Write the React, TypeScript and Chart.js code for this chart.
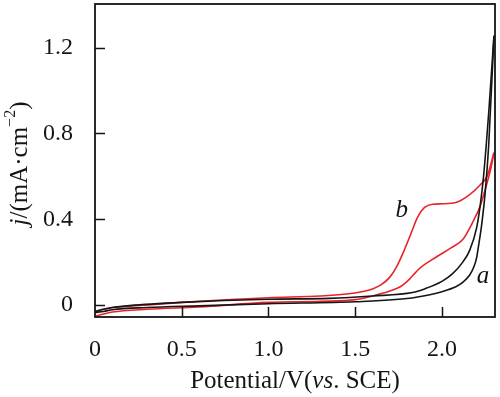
import React, { useEffect, useRef } from 'react';
import { Chart, registerables } from 'chart.js';
Chart.register(...registerables);

// Tick values and labels
const xTickValues = [0, 0.5, 1.0, 1.5, 2.0];
const xTickLabels = ['0', '0.5', '1.0', '1.5', '2.0'];
const yTickValues = [0, 0.4, 0.8, 1.2];
const yTickLabels = ['0', '0.4', '0.8', '1.2'];

// Curve a (black): branch rising at lower potential
const aUpperX = [0, 0.05, 0.1, 0.2, 0.5, 1.0, 1.35, 1.6, 1.83, 1.9, 2.0, 2.06, 2.12, 2.16, 2.2, 2.22, 2.24, 2.27, 2.3];
const aUpperY = [-0.03, -0.02, -0.012, -0.003, 0.012, 0.027, 0.031, 0.042, 0.058, 0.075, 0.11, 0.145, 0.2, 0.255, 0.36, 0.46, 0.6, 0.9, 1.256];
// Curve a (black): branch rising at higher potential
const aLowerX = [0, 0.05, 0.1, 0.3, 0.6, 1.0, 1.5, 1.8, 1.93, 2.0, 2.08, 2.12, 2.16, 2.18, 2.2, 2.21, 2.23, 2.25, 2.27, 2.3];
const aLowerY = [-0.035, -0.03, -0.022, -0.012, -0.004, 0.006, 0.015, 0.03, 0.048, 0.062, 0.085, 0.105, 0.14, 0.17, 0.22, 0.27, 0.38, 0.53, 0.75, 1.256];

// Curve b (red): branch with oxidation shoulder
const bUpperX = [0, 0.05, 0.1, 0.3, 0.5, 1.0, 1.3, 1.5, 1.55, 1.6, 1.65, 1.7, 1.74, 1.78, 1.82, 1.86, 1.9, 1.95, 2.0, 2.08, 2.16, 2.22, 2.26, 2.3];
const bUpperY = [-0.03, -0.02, -0.012, 0.0, 0.012, 0.034, 0.042, 0.056, 0.064, 0.075, 0.095, 0.13, 0.18, 0.25, 0.33, 0.41, 0.455, 0.47, 0.472, 0.478, 0.515, 0.56, 0.6, 0.71];
// Curve b (red): lower branch
const bLowerX = [0, 0.05, 0.1, 0.3, 0.6, 1.0, 1.3, 1.5, 1.6, 1.7, 1.76, 1.8, 1.87, 1.97, 2.05, 2.12, 2.18, 2.22, 2.25, 2.28, 2.3];
const bLowerY = [-0.052, -0.042, -0.033, -0.02, -0.009, 0.012, 0.017, 0.025, 0.042, 0.065, 0.085, 0.11, 0.17, 0.225, 0.265, 0.305, 0.39, 0.46, 0.54, 0.63, 0.71];

// Curve labels (data coordinates)
const curveLabels = ['a', 'b'];
const curveLabelX = [2.237, 1.768];
const curveLabelY = [0.132, 0.443];

const RED = '#e8242b';
const BLACK = '#151515';
const FONT = '"Liberation Serif", "Times New Roman", serif';

type Seg = { t: string; italic?: boolean; sup?: boolean };

function drawSegs(ctx: CanvasRenderingContext2D, segs: Seg[], cx: number, cy: number, size: number) {
  const fontFor = (s: Seg) => `${s.italic ? 'italic ' : ''}${s.sup ? Math.round(size * 0.62) : size}px ${FONT}`;
  let total = 0;
  const widths = segs.map((s) => {
    ctx.font = fontFor(s);
    const w = ctx.measureText(s.t).width;
    total += w;
    return w;
  });
  let x = cx - total / 2;
  ctx.textBaseline = 'middle';
  ctx.textAlign = 'left';
  segs.forEach((s, i) => {
    ctx.font = fontFor(s);
    ctx.fillText(s.t, x, s.sup ? cy - size * 0.38 : cy);
    x += widths[i];
  });
}

const decorPlugin = {
  id: 'decor',
  afterDraw(chart: any) {
    const { ctx, chartArea: ca, scales } = chart;
    const xs = scales.x;
    const ys = scales.y;
    ctx.save();
    ctx.strokeStyle = BLACK;
    ctx.lineWidth = 1.8;
    ctx.strokeRect(ca.left, ca.top, ca.right - ca.left, ca.bottom - ca.top);
    ctx.lineWidth = 1.5;
    ctx.beginPath();
    yTickValues.forEach((v) => {
      const py = Math.round(ys.getPixelForValue(v)) + 0.5;
      ctx.moveTo(ca.left, py);
      ctx.lineTo(ca.left + 10, py);
    });
    xTickValues.forEach((v) => {
      if (v === 0) return;
      const px = Math.round(xs.getPixelForValue(v)) + 0.5;
      ctx.moveTo(px, ca.bottom);
      ctx.lineTo(px, ca.bottom - 10);
    });
    ctx.stroke();

    ctx.fillStyle = BLACK;
    // x title
    drawSegs(ctx, [{ t: 'Potential/V(' }, { t: 'vs', italic: true }, { t: '. SCE)' }], (ca.left + ca.right) / 2, 381, 25);
    // y title
    ctx.save();
    ctx.translate(20, (ca.top + ca.bottom) / 2 + 3);
    ctx.rotate(-Math.PI / 2);
    drawSegs(ctx, [{ t: 'j', italic: true }, { t: '/(mA·cm' }, { t: '−2', sup: true }, { t: ')' }], 0, 0, 25);
    ctx.restore();

    // curve labels
    ctx.font = `italic 25px ${FONT}`;
    ctx.textAlign = 'center';
    ctx.textBaseline = 'middle';
    curveLabels.forEach((lab, i) => {
      ctx.fillText(lab, xs.getPixelForValue(curveLabelX[i]), ys.getPixelForValue(curveLabelY[i]));
    });
    ctx.restore();
  },
};

function toPts(xs: number[], ys: number[]) {
  return xs.map((x, i) => ({ x, y: ys[i] }));
}

function zeroPad(scale: any) {
  scale.paddingTop = 0;
  scale.paddingBottom = 0;
  scale.paddingLeft = 0;
  scale.paddingRight = 0;
}

export default function App() {
  const ref = useRef<HTMLCanvasElement | null>(null);
  useEffect(() => {
    document.body.style.margin = '0';
    const canvas = ref.current!;
    const mk = (xs: number[], ys: number[], color: string) => ({
      data: toPts(xs, ys),
      borderColor: color,
      backgroundColor: color,
      borderWidth: 1.6,
      pointRadius: 0,
      cubicInterpolationMode: 'monotone' as const,
      fill: false,
    });
    const chart = new Chart(canvas, {
      type: 'line',
      data: {
        datasets: [
          mk(aLowerX, aLowerY, BLACK),
          mk(aUpperX, aUpperY, BLACK),
          mk(bLowerX, bLowerY, RED),
          mk(bUpperX, bUpperY, RED),
        ],
      },
      options: {
        responsive: false,
        animation: false,
        layout: { padding: { top: 4, right: 5, left: 0, bottom: 0 } },
        plugins: { legend: { display: false }, tooltip: { enabled: false } },
        scales: {
          x: {
            type: 'linear',
            min: 0,
            max: 2.306,
            grid: { display: false },
            border: { display: false },
            afterBuildTicks: (scale: any) => {
              scale.ticks = xTickValues.map((v) => ({ value: v }));
            },
            afterFit: (scale: any) => {
              scale.height = 80;
              zeroPad(scale);
            },
            ticks: {
              autoSkip: false,
              maxRotation: 0,
              padding: 10,
              color: BLACK,
              font: { family: FONT, size: 24 },
              callback: (_v: any, i: number) => xTickLabels[i],
            },
          },
          y: {
            type: 'linear',
            min: -0.056,
            max: 1.404,
            grid: { display: false },
            border: { display: false },
            afterBuildTicks: (scale: any) => {
              scale.ticks = yTickValues.map((v) => ({ value: v }));
            },
            afterFit: (scale: any) => {
              scale.width = 95;
              zeroPad(scale);
            },
            ticks: {
              autoSkip: false,
              padding: 14,
              color: BLACK,
              font: { family: FONT, size: 24 },
              callback: (_v: any, i: number) => yTickLabels[i],
            },
          },
        },
      },
      plugins: [decorPlugin],
    });
    return () => chart.destroy();
  }, []);
  return (
    <div style={{ width: 500, height: 397, background: '#fff' }}>
      <canvas ref={ref} width={500} height={397} />
    </div>
  );
}
